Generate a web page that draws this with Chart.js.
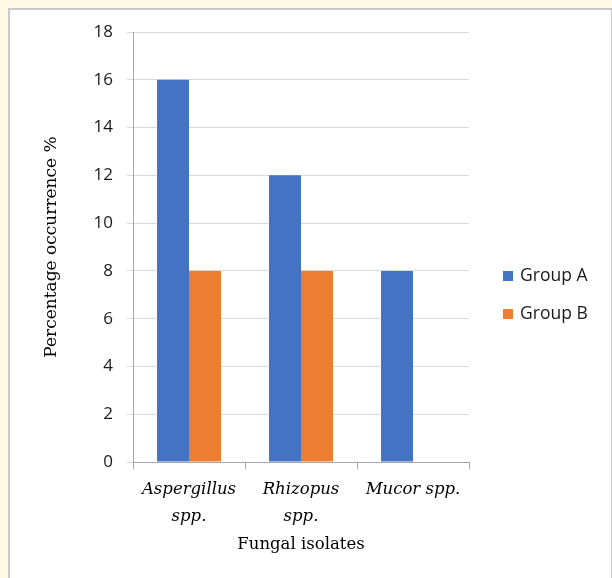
<!DOCTYPE html>
<html>
<head>
<meta charset="utf-8">
<script src="https://cdn.jsdelivr.net/npm/chart.js@4/dist/chart.umd.min.js"></script>
<style>
  html, body { margin: 0; padding: 0; width: 612px; height: 578px; overflow: hidden; background: #fff9e3; }
  #frame { position: absolute; left: 8px; top: 8px; width: 601px; height: 600px; background: #ffffff; border: 2px solid #c9c9c9; }
  #wrap { position: absolute; left: 0; top: 0; width: 612px; height: 578px; }
</style>
</head>
<body>
<div id="frame"></div>
<div id="wrap"><canvas id="chart" width="612" height="578"></canvas></div>
<script>
// Fungal isolates and their percentage occurrence per group
const categories = [["Aspergillus", "spp."], ["Rhizopus", "spp."], "Mucor spp."];
const seriesNames = ["Group A", "Group B"];
const groupA = [16, 12, 8];
const groupB = [8, 8, 0];
const yMin = 0;
const yMax = 18;
const yStep = 2;

const serifFont = "'DejaVu Serif', serif";
const sansFont = "'Open Sans', sans-serif";

// Legend drawn as a vertical list to the right of the plot
const sideLegend = {
  id: 'sideLegend',
  afterDraw(chart, args, opts) {
    const ctx = chart.ctx;
    ctx.save();
    ctx.font = "17.5px " + sansFont;
    ctx.textBaseline = 'middle';
    ctx.textAlign = 'left';
    chart.data.datasets.forEach((ds, i) => {
      const cy = opts.top + i * opts.gap;
      ctx.fillStyle = ds.backgroundColor;
      ctx.fillRect(opts.x, cy - 5, 10, 10);
      ctx.fillStyle = '#1a1a1a';
      ctx.fillText(ds.label, opts.x + 17, cy);
    });
    ctx.restore();
  }
};

new Chart(document.getElementById('chart'), {
  type: 'bar',
  data: {
    labels: categories,
    datasets: [
      { label: seriesNames[0], data: groupA, backgroundColor: '#4472c4', borderWidth: 0,
        categoryPercentage: 0.571, barPercentage: 1.0 },
      { label: seriesNames[1], data: groupB, backgroundColor: '#ed7d31', borderWidth: 0,
        categoryPercentage: 0.571, barPercentage: 1.0 }
    ]
  },
  options: {
    responsive: false,
    animation: false,
    devicePixelRatio: 1,
    layout: { padding: { top: 32, right: 143, bottom: 0, left: 0 } },
    plugins: {
      legend: { display: false },
      tooltip: { enabled: false },
      sideLegend: { x: 503, top: 276, gap: 38 }
    },
    scales: {
      x: {
        ticks: {
          padding: 7.5,
          maxRotation: 0,
          autoSkip: false,
          color: '#000000',
          font: { family: serifFont, style: 'italic', size: 16.5, lineHeight: 1.64 }
        },
        grid: { display: true, drawOnChartArea: false, drawTicks: true, tickLength: 7, color: '#a6a6a6', offset: true },
        border: { color: '#a6a6a6' },
        title: {
          display: true,
          text: 'Fungal isolates',
          color: '#000000',
          font: { family: serifFont, size: 16.5 },
          padding: { top: 0, bottom: 23 }
        },
        afterFit(scale) { scale.height = 116; }
      },
      y: {
        min: yMin,
        max: yMax,
        ticks: {
          stepSize: yStep,
          padding: 14,
          color: '#1a1a1a',
          font: { family: sansFont, size: 17 }
        },
        grid: { color: '#d9d9d9', tickLength: 6, drawTicks: true },
        border: { color: '#a6a6a6' },
        title: {
          display: true,
          text: 'Percentage occurrence %',
          color: '#000000',
          font: { family: serifFont, size: 17 },
          padding: { top: 41, bottom: 0 }
        },
        afterFit(scale) { scale.width = 133; }
      }
    }
  },
  plugins: [sideLegend]
});
</script>
</body>
</html>
